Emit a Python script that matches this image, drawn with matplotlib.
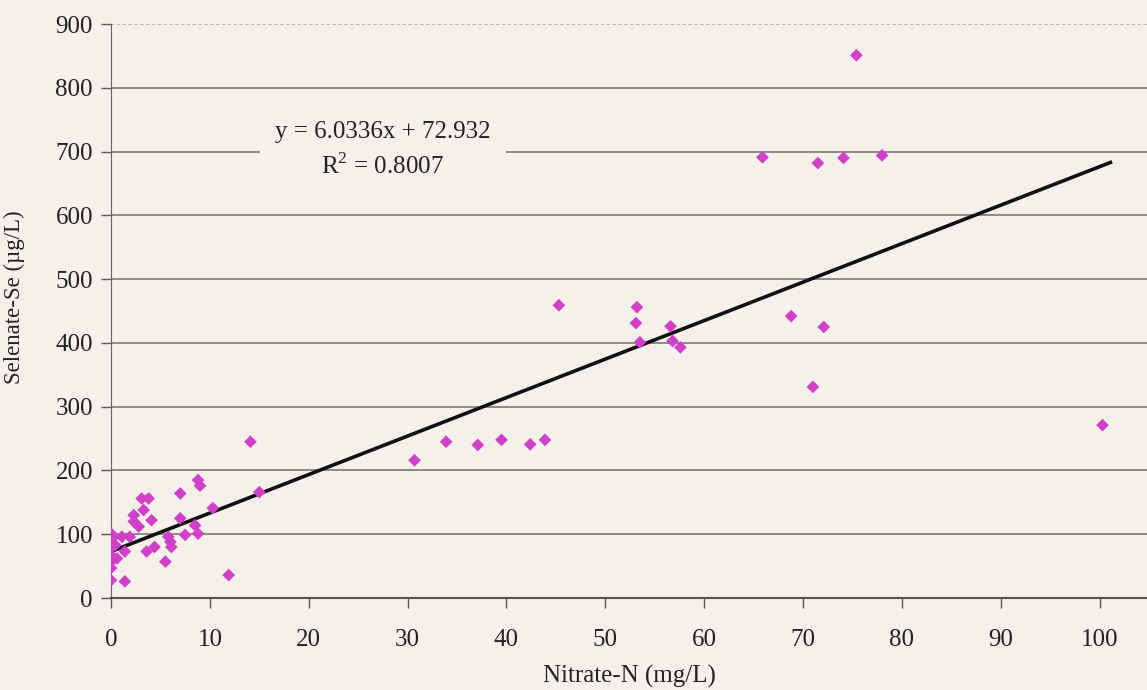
import matplotlib
matplotlib.use("Agg")
import matplotlib.pyplot as plt
import numpy as np

# Data
nitrate_n = [
    75.4, 65.9, 71.5, 74.1, 78.0,
    68.8, 72.1, 71.0, 100.3,
    45.3, 53.2, 53.1, 56.6, 56.8, 57.6, 53.5,
    30.7, 33.9, 37.1, 39.5, 42.4, 43.9,
    14.1, 15.0, 11.9,
    8.8, 9.0, 7.0, 3.1, 3.8, 10.3, 3.3, 2.3, 4.1, 7.0, 2.3, 2.8, 8.5,
    8.8, 7.5, 0.0, 1.1, 1.9, 5.8, 6.1, 4.4, 3.6, 6.0,
    0.0, 0.0, 0.0, 0.0, 0.0, 0.4, 1.4, 5.5, 0.0, 1.4, 0.2, 0.6,
]
selenate_se = [
    851, 691, 682, 690, 694,
    442, 425, 331, 271,
    459, 456, 431, 426, 403, 393, 401,
    216, 245, 240, 248, 241, 248,
    245, 166, 36,
    185, 176, 164, 156, 156, 141, 138, 130, 122, 125, 120, 112, 114,
    101, 99, 101, 96, 96, 96, 80, 80, 73, 88,
    88, 78, 67, 57, 47, 83, 73, 57, 28, 26, 95, 62,
]
slope = 6.0336
intercept = 72.932
r_squared = 0.8007
x_ticks = [0, 10, 20, 30, 40, 50, 60, 70, 80, 90, 100]
y_ticks = [0, 100, 200, 300, 400, 500, 600, 700, 800, 900]

bg = "#f4f1ea"
plt.rcParams["font.family"] = ["Liberation Serif", "DejaVu Serif"]
plt.rcParams["mathtext.fontset"] = "custom"
plt.rcParams["mathtext.rm"] = "Liberation Serif"

fig = plt.figure(figsize=(11.47, 6.90), dpi=100, facecolor=bg)
ax = fig.add_axes([0.0968, 0.1333, 0.9032, 0.8319], facecolor=bg)

ax.set_xlim(0, 104.8)
ax.set_ylim(0, 900)

# gridlines
for yv in y_ticks[1:-1]:
    ax.axhline(yv, color="#8c8c80", lw=1.4, zorder=1)
ax.axhline(900, color="#a8a8a0", lw=1.2, ls=(0, (2, 1.5)), zorder=1)

# trendline
xt = np.array([0, max(nitrate_n) + 0.8])
ax.plot(xt, slope * xt + intercept, color="#111111", lw=2.6, zorder=3)

ax.scatter(nitrate_n, selenate_se, marker="D", s=42, color="#d23fc8",
           edgecolors="none", zorder=4)

label = f"y = {slope:.4f}x + {intercept:.3f}\n" + r"R$^{\mathrm{2}}$" + f" = {r_squared:.4f}"
ax.text(27.5, 703, label,
        ha="center", va="center", fontsize=18, color="#222222", linespacing=1.5,
        bbox=dict(boxstyle="square,pad=0.6", fc=bg, ec="none"), zorder=5)

ax.set_xticks(x_ticks)
ax.set_yticks(y_ticks)
ax.tick_params(axis="both", labelsize=18, colors="#555555", labelcolor="#222222",
               direction="out", length=7, width=1)
ax.tick_params(axis="x", pad=15)
ax.tick_params(axis="y", pad=6)

for s in ["top", "right"]:
    ax.spines[s].set_visible(False)
ax.spines["left"].set_color("#666666")
ax.spines["bottom"].set_color("#555545")
ax.spines["bottom"].set_linewidth(1.5)

ax.set_xlabel("Nitrate-N (mg/L)", fontsize=18, color="#222222", labelpad=10)
ax.set_ylabel("Selenate-Se (µg/L)", fontsize=16.5, color="#222222")
ax.yaxis.set_label_coords(-0.083, 0.524)

fig.savefig("out.png", dpi=100, facecolor=bg)
